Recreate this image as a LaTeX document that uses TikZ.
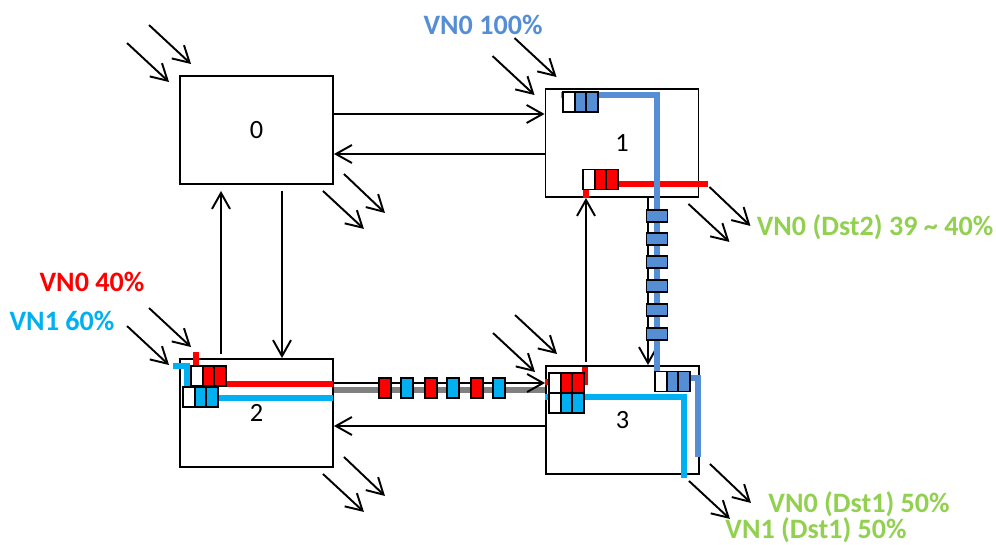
\documentclass[tikz,border=0pt]{standalone}
\usepackage{fontspec}
\setmainfont{Carlito}
\usetikzlibrary{arrows.meta,positioning,calc}
\definecolor{vnzero}{RGB}{85,142,213}
\definecolor{vnone}{RGB}{0,176,240}
\definecolor{dstgreen}{RGB}{146,208,80}
\newcommand{\vcq}[3]{%
  \node[qcell] (#1a) at (#2) {};
  \node[qcell, fill=#3, right=0pt of #1a] (#1b) {};
  \node[qcell, fill=#3, right=0pt of #1b] (#1c) {};}

\begin{document}
\begin{tikzpicture}[x=0.02cm, y=-0.02cm, line width=1.1pt,
    >={Straight Barb[length=0.32cm,width=0.36cm]},
    router/.style={draw, minimum width=3.06cm, minimum height=2.16cm, inner sep=0pt, font=\fontsize{15}{18}\selectfont},
    qcell/.style={draw, fill=white, minimum width=0.23cm, minimum height=0.4cm, inner sep=0pt, outer sep=0pt},
    flit/.style={draw, minimum width=0.24cm, minimum height=0.4cm, inner sep=0pt},
    vflit/.style={draw, fill=vnzero, minimum width=0.42cm, minimum height=0.24cm, inner sep=0pt},
    route/.style={line width=3pt},
    lbl/.style={font=\bfseries\fontsize{16}{19}\selectfont}]
    \useasboundingbox (0,0) rectangle (996,544);
    \node[router] (r0) at (256.5,130) {0};
    \node[router] (r1) at (622,143) {1};
    \node[router] (r2) at (256.5,413) {2};
    \node[router] (r3) at (622.5,420) {3};
    \draw[gray, line width=3.2pt] ($(r2.east)+(0,-23)$) -- ($(r3.west)+(0,-30)$);
    \draw[->] ($(r0.east)+(0,-16)$) -- ($(r1.west)+(0,-29)$);
    \draw[->] ($(r1.west)+(0,11)$) -- ($(r0.east)+(0,24)$);
    \draw[->] ($(r0.south)+(25.5,6)$) -- ($(r2.north)+(25.5,0)$);
    \draw[->] ($(r2.north)+(-35.5,-4)$) -- ($(r0.south)+(-35.5,6)$);
    \draw[->] ($(r1.south)+(26,0)$) -- ($(r3.north)+(25.5,0)$);
    \draw[->] ($(r3.north)+(-36.5,-3)$) -- ($(r1.south)+(-36,0)$);
    \draw[->] ($(r2.east)+(0,-30)$) -- ($(r3.west)+(0,-37)$);
    \draw[->] ($(r3.west)+(0,6)$) -- ($(r2.east)+(0,13)$);
    \foreach \r in {r0,r1,r2,r3} {
        \draw[->] ($(\r.north west)+(-52,-32)$) -- ++(42,39);
        \draw[->] ($(\r.north west)+(-30,-50)$) -- ++(42,39);
        \draw[->] ($(\r.south east)+(-11,6)$) -- ++(41,38);
        \draw[->] ($(\r.south east)+(10,-11)$) -- ++(41,39);
    }
    \draw[route, red] (196,352) -- (196,368);
    \draw[route, red] (222,384) -- (333,384);
    \draw[route, red] (545,382) -- (552,382);
    \draw[route, red] (578,382) -- (585,382) -- (585,367);
    \draw[route, red] (586,198) -- (586,186);
    \draw[route, red] (612,184) -- (708,184);
    \draw[route, vnone] (173,366) -- (187,366) -- (187,390);
    \draw[route, vnone] (212,398) -- (333,398);
    \draw[route, vnone] (545,397) -- (552,397);
    \draw[route, vnone] (578,397) -- (684,397) -- (684,478);
    \draw[route, vnzero] (561,95) -- (657,95) -- (657,378) -- (698,378) -- (698,457);
    \foreach \y [count=\i] in {216,239,262,286,310,334}
        \node[vflit] (v\i) at (657,\y) {};
    \foreach \x/\c [count=\i] in {385/red,407/vnone,431/red,453/vnone,477/red,499/vnone}
        \node[flit, fill=\c] (h\i) at (\x,388) {};
    \vcq{qa}{569,102}{vnzero}
    \vcq{qb}{589,179.5}{red}
    \vcq{qc}{197,376}{red}
    \vcq{qd}{189,397}{vnone}
    \vcq{qe}{555,383}{red}
    \vcq{qf}{555,403}{vnone}
    \vcq{qg}{661,381.5}{vnzero}
    \node[lbl, text=vnzero] (t0) at (483,25) {VN0 100\%};
    \node[lbl, text=red] (t1) at (92,282) {VN0 40\%};
    \node[lbl, text=vnone] (t2) at (62,321) {VN1 60\%};
    \node[lbl, text=dstgreen] (t3) at (875,227) {VN0 (Dst2) 39 \textasciitilde{} 40\%};
    \node[lbl, text=dstgreen] (t4) at (859,504) {VN0 (Dst1) 50\%};
    \node[lbl, text=dstgreen] (t5) at (816,530) {VN1 (Dst1) 50\%};
\end{tikzpicture}
\end{document}
